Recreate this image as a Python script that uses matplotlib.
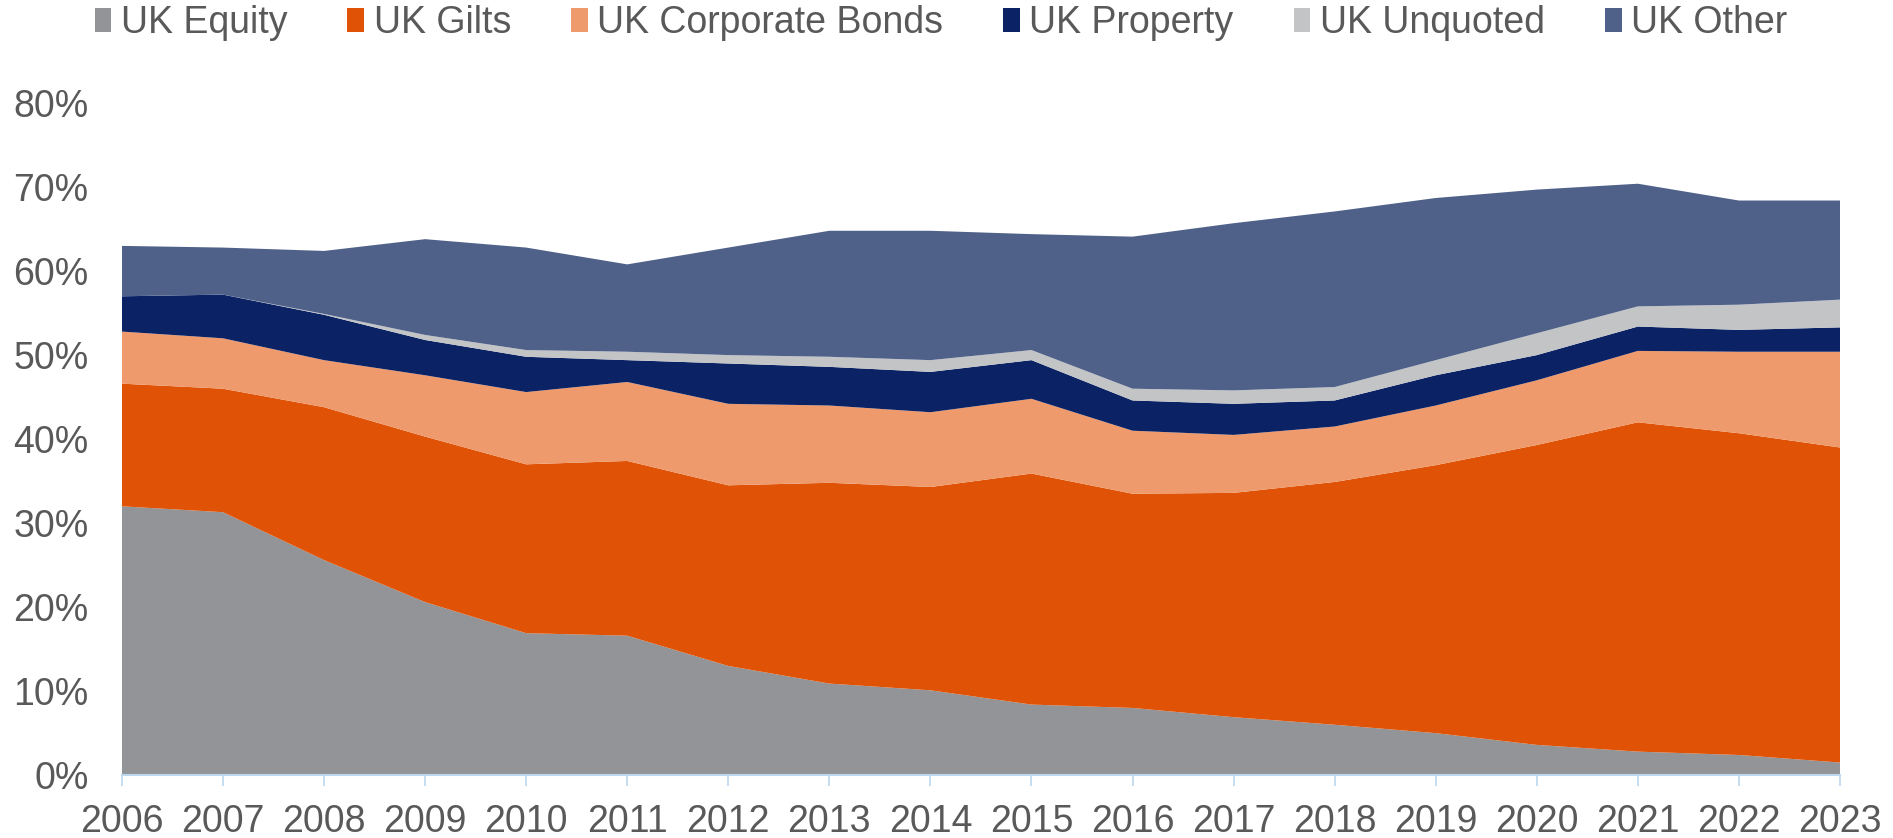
import numpy as np
import matplotlib.pyplot as plt
from matplotlib.patches import Patch

plt.rcParams['font.family'] = ['Liberation Sans', 'DejaVu Sans']

# -------------------------
# Asset allocation (% of assets)
# -------------------------
years = np.arange(2006, 2024)

uk_equity = [32.0, 31.3, 25.6, 20.6, 16.9, 16.6, 13.0, 10.9, 10.1,
             8.4, 8.0, 6.9, 6.0, 5.0, 3.6, 2.8, 2.4, 1.5]
uk_gilts = [14.6, 14.7, 18.2, 19.7, 20.1, 20.8, 21.5, 23.9, 24.2,
            27.5, 25.5, 26.7, 28.9, 31.9, 35.7, 39.2, 38.3, 37.5]
uk_corp_bonds = [6.2, 6.0, 5.6, 7.3, 8.6, 9.4, 9.7, 9.2, 8.9,
                 8.9, 7.5, 6.9, 6.6, 7.1, 7.7, 8.5, 9.7, 11.4]
uk_property = [4.2, 5.2, 5.4, 4.2, 4.2, 2.6, 4.8, 4.6, 4.8,
               4.6, 3.6, 3.7, 3.1, 3.6, 3.0, 2.9, 2.6, 2.9]
uk_unquoted = [0.0, 0.0, 0.1, 0.6, 0.8, 1.0, 1.0, 1.2, 1.4,
               1.2, 1.4, 1.6, 1.6, 1.8, 2.6, 2.4, 3.0, 3.3]
uk_other = [6.0, 5.6, 7.5, 11.4, 12.2, 10.4, 12.8, 15.0, 15.4,
            13.8, 18.1, 19.9, 20.9, 19.3, 17.1, 14.6, 12.4, 11.8]

labels = ["UK Equity", "UK Gilts", "UK Corporate Bonds",
          "UK Property", "UK Unquoted", "UK Other"]
colors = ["#929497", "#E05206", "#EE9A6C", "#0B2265", "#C3C4C6", "#4F6189"]

# -------------------------
# Stacked area chart
# -------------------------
fig = plt.figure(figsize=(18.93, 8.38), dpi=100)
ax = fig.add_axes([0.0644, 0.075, 0.9076, 0.802])

ax.stackplot(years, uk_equity, uk_gilts, uk_corp_bonds, uk_property,
             uk_unquoted, uk_other, colors=colors, linewidth=0)

ax.set_xlim(years[0], years[-1])
ax.set_ylim(0, 80)
ax.set_xticks(years)
ax.set_yticks(np.arange(0, 81, 10))
ax.set_yticklabels([f"{v}%" for v in range(0, 81, 10)])

text_color = "#595959"
ax.tick_params(axis="x", colors="#BDD7EE", length=8, width=1.2,
               labelsize=27, labelcolor=text_color, pad=13)
ax.tick_params(axis="y", length=0, labelsize=27, labelcolor=text_color, pad=24)

for side in ["top", "right", "left"]:
    ax.spines[side].set_visible(False)
ax.spines["bottom"].set_color("#BDD7EE")
ax.spines["bottom"].set_linewidth(1.5)

handles = [Patch(facecolor=c, edgecolor="none") for c in colors]
fig.legend(handles, labels, loc="upper center", bbox_to_anchor=(0.497, 1.034),
           ncol=6, frameon=False, fontsize=27, labelcolor=text_color,
           handlelength=0.45, handleheight=0.6, handletextpad=0.25,
           columnspacing=1.6)

fig.savefig("out.png", dpi=100)
